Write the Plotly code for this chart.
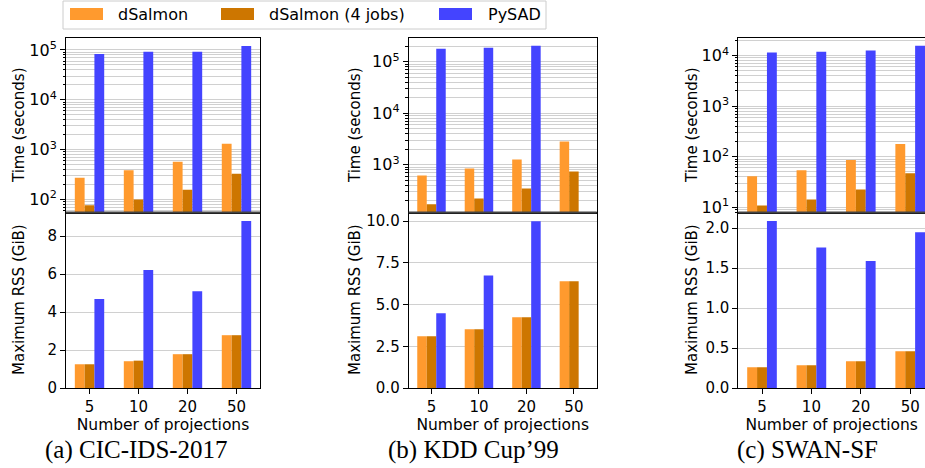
import plotly.graph_objects as go

projections = ["5", "10", "20", "50"]
series_names = ["dSalmon", "dSalmon (4 jobs)", "PySAD"]
captions = ["(a) CIC-IDS-2017", "(b) KDD Cup\u201999", "(c) SWAN-SF"]

cic_time_dsalmon = [275, 385, 575, 1320]
cic_time_4jobs = [77, 100, 158, 330]
cic_time_pysad = [83000, 92500, 92500, 120000]
cic_rss_dsalmon = [1.25, 1.41, 1.78, 2.78]
cic_rss_4jobs = [1.25, 1.44, 1.78, 2.78]
cic_rss_pysad = [4.68, 6.21, 5.10, 8.79]

kdd_time_dsalmon = [620, 850, 1270, 2830]
kdd_time_4jobs = [173, 223, 348, 742]
kdd_time_pysad = [178000, 187000, 204000, None]
kdd_rss_dsalmon = [3.10, 3.52, 4.24, 6.40]
kdd_rss_4jobs = [3.10, 3.52, 4.24, 6.40]
kdd_rss_pysad = [4.48, 6.74, 10.0, None]

swan_time_dsalmon = [41, 54, 86, 179]
swan_time_4jobs = [10.8, 14.2, 22.5, 47]
swan_time_pysad = [11500, 12000, 12600, 15800]
swan_rss_dsalmon = [0.26, 0.284, 0.334, 0.46]
swan_rss_4jobs = [0.26, 0.284, 0.334, 0.46]
swan_rss_pysad = [2.09, 1.76, 1.59, 1.95]

time_tickvals = [10, 100, 1000, 10000, 100000]
time_ticktext = ["10<sup>1</sup>", "10<sup>2</sup>", "10<sup>3</sup>", "10<sup>4</sup>", "10<sup>5</sup>"]

colors = ["#FF9A2E", "#CD7600", "#4444FF"]
bar_offsets = [-0.3, -0.1, 0.1]
BAR_W = 0.2
FONT = "DejaVu Sans"
W, H = 925, 468

panels = [
    dict(time=[cic_time_dsalmon, cic_time_4jobs, cic_time_pysad],
         rss=[cic_rss_dsalmon, cic_rss_4jobs, cic_rss_pysad],
         xdom=[66, 260], trange=[1.74, 5.24], rrange=[0, 9.24],
         rtick=[0, 2, 4, 6, 8], rfmt="d", xrange=[-0.48, 3.48], right=True,
         ytitle_x=19, cap_x=136),
    dict(time=[kdd_time_dsalmon, kdd_time_4jobs, kdd_time_pysad],
         rss=[kdd_rss_dsalmon, kdd_rss_4jobs, kdd_rss_pysad],
         xdom=[408.7, 596.7], trange=[2.077, 5.46], rrange=[0, 10.52],
         rtick=[0, 2.5, 5, 7.5, 10], rfmt=".1f", xrange=[-0.48, 3.48], right=True,
         ytitle_x=355, cap_x=473),
    dict(time=[swan_time_dsalmon, swan_time_4jobs, swan_time_pysad],
         rss=[swan_rss_dsalmon, swan_rss_4jobs, swan_rss_pysad],
         xdom=[738.3, 925], trange=[0.895, 4.35], rrange=[0, 2.197],
         rtick=[0, 0.5, 1, 1.5, 2], rfmt=".1f", xrange=[-0.48, 3.30], right=False,
         ytitle_x=692, cap_x=807),
]

minor_vals = [k * 10 ** n for n in range(0, 6) for k in range(2, 10)]

top_dom = [1 - 212.5 / H, 1 - 38 / H]
bot_dom = [1 - 388 / H, 1 - 212.5 / H]
GRID = "#d0d0d0"

fig = go.Figure()
layout = dict(
    width=W, height=H, autosize=False,
    margin=dict(l=0, r=0, t=0, b=0, pad=0, autoexpand=False),
    paper_bgcolor="white", plot_bgcolor="white",
    barmode="overlay",
    showlegend=False, font=dict(family=FONT, size=15, color="black"),
)
annotations = []
shapes = []

for i, p in enumerate(panels):
    ta = 2 * i + 1
    ba = 2 * i + 2
    tx = "x" if ta == 1 else f"x{ta}"
    ty = "y" if ta == 1 else f"y{ta}"
    bx = f"x{ba}"
    by = f"y{ba}"
    for j in range(3):
        fig.add_trace(go.Bar(x=projections, y=p["time"][j], name=series_names[j],
                             width=BAR_W, offset=bar_offsets[j], opacity=1,
                             marker=dict(color=colors[j], line=dict(width=0)),
                             xaxis=tx, yaxis=ty, showlegend=False))
        fig.add_trace(go.Bar(x=projections, y=p["rss"][j], name=series_names[j],
                             width=BAR_W, offset=bar_offsets[j], opacity=1,
                             marker=dict(color=colors[j], line=dict(width=0)),
                             xaxis=bx, yaxis=by, showlegend=False))
    xd = [p["xdom"][0] / W, p["xdom"][1] / W]
    common_x = dict(domain=xd, range=p["xrange"], type="category",
                    categoryorder="array", categoryarray=projections,
                    showline=True, linecolor="black", linewidth=1,
                    mirror=True, showgrid=False, zeroline=False, automargin=False)
    layout["xaxis" if ta == 1 else f"xaxis{ta}"] = dict(
        common_x, anchor=ty, showticklabels=False, ticks="")
    layout[f"xaxis{ba}"] = dict(
        common_x, anchor=by, ticks="outside", ticklen=5, tickcolor="black",
        tickfont=dict(size=15),
        title=dict(text="Number of projections", standoff=3, font=dict(size=15.5)))
    layout["yaxis" if ta == 1 else f"yaxis{ta}"] = dict(
        domain=top_dom, anchor=tx, type="log", range=p["trange"], automargin=False,
        tickvals=time_tickvals, ticktext=time_ticktext,
        ticks="outside", ticklen=5, tickcolor="black", tickfont=dict(size=16),
        showgrid=True, gridcolor=GRID, gridwidth=1,
        minor=dict(tickvals=minor_vals, ticks="outside", ticklen=2.5, tickcolor="black",
                   showgrid=True, gridcolor=GRID, gridwidth=1),
        showline=True, linecolor="black", linewidth=1, mirror=p["right"], zeroline=False)
    layout[f"yaxis{ba}"] = dict(
        domain=bot_dom, anchor=bx, range=p["rrange"], tickvals=p["rtick"], automargin=False,
        tickformat=p["rfmt"], ticks="outside", ticklen=5, tickcolor="black",
        tickfont=dict(size=15), showgrid=True, gridcolor=GRID, gridwidth=1,
        showline=True, linecolor="black", linewidth=1, mirror=p["right"], zeroline=False)
    annotations.append(dict(text="Time (seconds)", xref="paper", yref="paper",
                            x=p["ytitle_x"] / W, y=1 - 125 / H, textangle=-90,
                            showarrow=False, font=dict(size=15),
                            xanchor="center", yanchor="middle"))
    annotations.append(dict(text="Maximum RSS (GiB)", xref="paper", yref="paper",
                            x=p["ytitle_x"] / W, y=1 - 300 / H, textangle=-90,
                            showarrow=False, font=dict(size=15),
                            xanchor="center", yanchor="middle"))
    annotations.append(dict(text=captions[i], xref="paper", yref="paper",
                            x=p["cap_x"] / W, y=1 - 450 / H, showarrow=False,
                            font=dict(family="Liberation Serif", size=25),
                            xanchor="center", yanchor="middle"))
    # dark separator between the two stacked panels
    shapes.append(dict(type="line", xref="paper", yref="paper",
                       x0=xd[0], x1=xd[1], y0=top_dom[0], y1=top_dom[0],
                       line=dict(color="#444444", width=2), layer="above"))

# legend box
shapes.append(dict(type="rect", xref="paper", yref="paper",
                   x0=63 / W, x1=546 / W, y0=1 - 29 / H, y1=1 - 1 / H,
                   line=dict(color="#cccccc", width=1), fillcolor="white"))
legend_x = [(70, 116), (221, 267), (439, 486)]
for j, (sx, tx_) in enumerate(legend_x):
    shapes.append(dict(type="rect", xref="paper", yref="paper",
                       x0=sx / W, x1=(sx + 33) / W, y0=1 - 20 / H, y1=1 - 8 / H,
                       line=dict(width=0), fillcolor=colors[j]))
    annotations.append(dict(text=series_names[j], xref="paper", yref="paper",
                            x=tx_ / W, y=1 - 14.5 / H, showarrow=False,
                            font=dict(size=16), xanchor="left", yanchor="middle"))

layout["annotations"] = annotations
layout["shapes"] = shapes
fig.update_layout(**layout)
fig.write_html(
    "out.html",
    config={"displayModeBar": False, "responsive": False},
    post_script=(
        "var de=document.documentElement, bd=document.body;"
        "de.style.margin='0';de.style.padding='0';de.style.overflow='hidden';"
        "bd.style.margin='0';bd.style.padding='0';bd.style.overflow='hidden';"
    ),
)
